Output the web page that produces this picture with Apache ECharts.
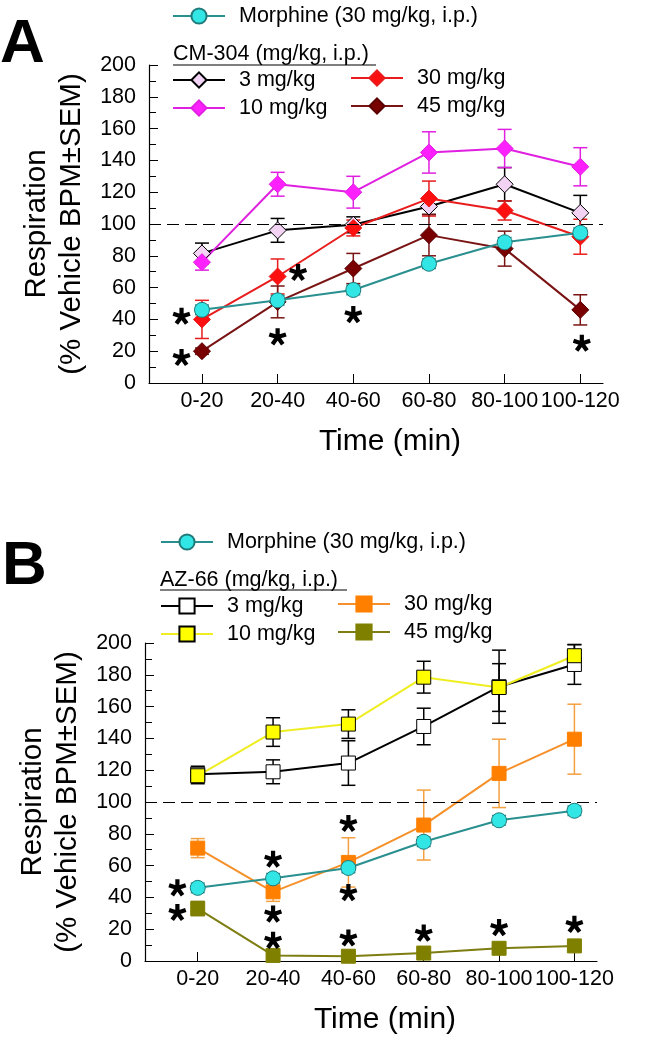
<!DOCTYPE html>
<html><head><meta charset="utf-8">
<script src="https://cdn.jsdelivr.net/npm/echarts@6/dist/echarts.min.js"></script>
<style>html,body{margin:0;padding:0;background:#fff}#c{width:645px;height:1043px}</style>
</head><body><div id="c"></div>
<script>
// ---------- DATA ----------
const categories = ['0-20', '20-40', '40-60', '60-80', '80-100', '100-120'];

const morphine    = [46, 52, 58.5, 75, 88.5, 94.5];
const morphineErr = [3, 3, 3, 3, 3, 3];

// Panel A: CM-304
const cm3     = [81.5, 96, 99.5, 111, 125, 107];
const cm3Err  = [6.5, 7.5, 5, 5, 10.5, 11];
const cm10    = [76, 125, 120, 145, 147.5, 136];
const cm10Err = [5, 7.5, 10, 13, 12, 12];
const cm30    = [40, 67, 97.5, 116, 108.5, 92];
const cm30Err = [12, 11, 5, 11, 6, 11];
const cm45    = [20, 51, 72, 93, 84.5, 46];
const cm45Err = [2, 10, 9.5, 13, 11, 9.5];

// Panel B: AZ-66
const az3     = [117.5, 119, 124.5, 147.5, 172.5, 186.5];
const az3Err  = [5, 7.5, 14, 11.5, 23, 12.5];
const az10    = [116.5, 144, 149, 178.5, 172, 192];
const az10Err = [5, 9, 9, 10, 15, 7];
const az30    = [71, 43.5, 62, 85.5, 118, 139.5];
const az30Err = [6, 6, 15.5, 22, 21.5, 22];
const az45    = [33, 3.5, 3, 5, 8, 9.5];
const az45Err = [4.5, 1, 1, 1, 1.5, 1.5];

// significance markers [category position, value]
const starsA = [[-0.27, 42], [-0.27, 16], [1.0, 29], [1.27, 69.5], [2.0, 43], [5.02, 25]];
const starsB = [[-0.27, 46], [-0.27, 30.5], [1, 64], [1, 29.5], [1, 13], [2, 86.5], [2, 43], [2, 14.5], [3, 17.5], [4, 21], [5, 23]];

const baseline = 100;

// ---------- CHART ----------
const FONT = 'Liberation Sans, Arial, sans-serif';
const chart = echarts.init(document.getElementById('c'), null, {renderer: 'canvas'});

function starPath() {
  const c = 50, r = 50, w = 12; let d = '';
  for (let k = 0; k < 5; k++) {
    const t = k * 72 * Math.PI / 180;
    const dx = Math.sin(t), dy = -Math.cos(t), px = Math.cos(t), py = Math.sin(t);
    const pts = [[c + w * px, c + w * py], [c + w * px + r * dx, c + w * py + r * dy],
                 [c - w * px + r * dx, c - w * py + r * dy], [c - w * px, c - w * py]];
    d += 'M' + pts.map(p => p[0].toFixed(2) + ' ' + p[1].toFixed(2)).join('L') + 'Z';
  }
  return 'path://' + d;
}
const STAR = starPath();

function lineSeries(name, vals, idx, symbol, size, fill, border, line, z) {
  return {
    type: 'line', name, xAxisIndex: idx, yAxisIndex: idx, z: z || 3,
    data: vals.map((v, i) => [i, v]),
    symbol, symbolSize: size, showAllSymbol: true,
    itemStyle: {color: fill, borderColor: border, borderWidth: 1},
    lineStyle: {color: line, width: 2},
    emphasis: {disabled: true}, animation: false
  };
}
function errSeries(vals, errs, idx, color) {
  return {
    type: 'custom', xAxisIndex: idx, yAxisIndex: idx, z: 2, silent: true, animation: false,
    data: vals.map((v, i) => [i, v - errs[i], v + errs[i]]),
    encode: {x: 0, y: [1, 2]},
    renderItem: (params, api) => {
      const lo = api.coord([api.value(0), api.value(1)]);
      const hi = api.coord([api.value(0), api.value(2)]);
      const hw = 7;
      const style = {stroke: color, lineWidth: 1.5, fill: null};
      return {type: 'group', children: [
        {type: 'line', shape: {x1: lo[0], y1: lo[1], x2: hi[0], y2: hi[1]}, style},
        {type: 'line', shape: {x1: lo[0] - hw, y1: lo[1], x2: lo[0] + hw, y2: lo[1]}, style},
        {type: 'line', shape: {x1: hi[0] - hw, y1: hi[1], x2: hi[0] + hw, y2: hi[1]}, style}
      ]};
    }
  };
}
function starSeries(pts, idx) {
  return {type: 'scatter', xAxisIndex: idx, yAxisIndex: idx, z: 6, silent: true, animation: false,
    data: pts, symbol: STAR, symbolSize: 18, symbolKeepAspect: true, itemStyle: {color: '#000', opacity: 1}};
}
function xAxis(idx) {
  return {
    type: 'value', gridIndex: idx, min: -0.7, max: 5.3,
    axisLine: {onZero: false, lineStyle: {color: '#000', width: 1.2}},
    axisTick: {inside: true, length: 9, customValues: [0, 1, 2, 3, 4, 5], lineStyle: {color: '#000'}},
    axisLabel: {customValues: [0, 1, 2, 3, 4, 5], formatter: v => categories[Math.round(v)], fontSize: 21.5, color: '#000', fontFamily: FONT, margin: 7},
    splitLine: {show: false},
    name: 'Time (min)', nameLocation: 'middle', nameGap: 44,
    nameTextStyle: {fontSize: 30, color: '#000', fontFamily: FONT, padding: [0, 0, 0, 28]}
  };
}
function yAxis(idx) {
  return {
    type: 'value', gridIndex: idx, min: 0, max: 200, interval: 20,
    axisLine: {show: true, onZero: false, lineStyle: {color: '#000', width: 1.2}},
    axisTick: {show: true, inside: true, length: 9, lineStyle: {color: '#000'}},
    minorTick: {show: true, splitNumber: 2, length: 7, lineStyle: {color: '#000'}},
    axisLabel: {fontSize: 21.5, color: '#000', fontFamily: FONT, margin: 13},
    splitLine: {show: false},
    name: 'Respiration\n(% Vehicle BPM±SEM)', nameLocation: 'middle', nameRotate: 90, nameGap: 52,
    nameTextStyle: {fontSize: 29.5, lineHeight: 35, color: '#000', fontFamily: FONT}
  };
}

const MORPH = 'Morphine (30 mg/kg, i.p.)';
const legendCommon = {
  padding: 0, itemWidth: 52, itemHeight: 19, itemGap: 6, selectedMode: false,
  formatter: n => n.split('|')[1],
  textStyle: {fontSize: 21.5, color: '#000', fontFamily: FONT, padding: [0, 0, 0, 9]}
};

const dashed = {
  silent: true, symbol: ['none', 'none'], label: {show: false},
  lineStyle: {type: [12, 6], color: '#000', width: 1.2},
  data: [{yAxis: baseline}]
};

const series = [
  // Panel A
  errSeries(cm3, cm3Err, 0, '#000'),
  errSeries(cm10, cm10Err, 0, '#e020e0'),
  errSeries(cm30, cm30Err, 0, '#e81c1c'),
  errSeries(cm45, cm45Err, 0, '#7a1414'),
  errSeries(morphine, morphineErr, 0, '#2a8f8f'),
  Object.assign(lineSeries('A|3 mg/kg', cm3, 0, 'diamond', 17, '#f3d3f3', '#000', '#000'), {markLine: dashed}),
  lineSeries('A|10 mg/kg', cm10, 0, 'diamond', 17, '#ff20ff', '#e020e0', '#e020e0'),
  lineSeries('A|30 mg/kg', cm30, 0, 'diamond', 17, '#ff1010', '#e81c1c', '#e81c1c'),
  lineSeries('A|45 mg/kg', cm45, 0, 'diamond', 17, '#780000', '#5a0000', '#7a1414'),
  lineSeries('A|' + MORPH, morphine, 0, 'circle', 15, '#33e6e6', '#1f7a7a', '#2a8f8f', 4),
  starSeries(starsA, 0),
  // Panel B
  errSeries(az3, az3Err, 1, '#000'),
  errSeries(az10, az10Err, 1, '#000'),
  errSeries(az30, az30Err, 1, '#f5a040'),
  errSeries(az45, az45Err, 1, '#7d7d12'),
  errSeries(morphine, morphineErr, 1, '#2a8f8f'),
  Object.assign(lineSeries('B|3 mg/kg', az3, 1, 'rect', 14, '#ffffff', '#000', '#000'), {markLine: dashed}),
  lineSeries('B|10 mg/kg', az10, 1, 'rect', 14, '#ffff00', '#000', '#eeee22'),
  lineSeries('B|30 mg/kg', az30, 1, 'rect', 14, '#ff8000', '#ff8000', '#f5902a'),
  lineSeries('B|45 mg/kg', az45, 1, 'rect', 14, '#808000', '#808000', '#7d7d12'),
  lineSeries('B|' + MORPH, morphine, 1, 'circle', 15, '#33e6e6', '#1f7a7a', '#2a8f8f', 4),
  starSeries(starsB, 1)
];

const option = {
  backgroundColor: '#fff',
  animation: false,
  grid: [
    {left: 149, top: 65, width: 454, height: 318},
    {left: 145, top: 643, width: 452, height: 318}
  ],
  xAxis: [xAxis(0), xAxis(1)],
  yAxis: [yAxis(0), yAxis(1)],
  legend: [
    Object.assign({}, legendCommon, {data: ['A|' + MORPH], left: 172, top: 5}),
    Object.assign({}, legendCommon, {data: ['A|3 mg/kg', 'A|10 mg/kg'], orient: 'vertical', left: 172, top: 69}),
    Object.assign({}, legendCommon, {data: ['A|30 mg/kg', 'A|45 mg/kg'], orient: 'vertical', left: 350, top: 67}),
    Object.assign({}, legendCommon, {data: ['B|' + MORPH], left: 160, top: 531}),
    Object.assign({}, legendCommon, {data: ['B|3 mg/kg', 'B|10 mg/kg'], orient: 'vertical', left: 160, top: 595}),
    Object.assign({}, legendCommon, {data: ['B|30 mg/kg', 'B|45 mg/kg'], orient: 'vertical', left: 337, top: 593})
  ],
  graphic: [
    {type: 'text', left: 0, top: 14, style: {text: 'A', fontSize: 62, fontWeight: 'bold', fontFamily: FONT, fill: '#000'}},
    {type: 'text', left: 2, top: 536, style: {text: 'B', fontSize: 62, fontWeight: 'bold', fontFamily: FONT, fill: '#000'}},
    {type: 'text', x: 173, y: 54, style: {text: 'CM-304 (mg/kg, i.p.)', fontSize: 21.5, fontFamily: FONT, fill: '#000', verticalAlign: 'middle'}},
    {type: 'line', shape: {x1: 173, y1: 65, x2: 376, y2: 65}, style: {stroke: '#000', lineWidth: 1.2}},
    {type: 'text', x: 160, y: 580, style: {text: 'AZ-66 (mg/kg, i.p.)', fontSize: 21.5, fontFamily: FONT, fill: '#000', verticalAlign: 'middle'}},
    {type: 'line', shape: {x1: 160, y1: 590, x2: 347, y2: 590}, style: {stroke: '#000', lineWidth: 1.2}}
  ],
  series
};
chart.setOption(option);
</script>
</body></html>
